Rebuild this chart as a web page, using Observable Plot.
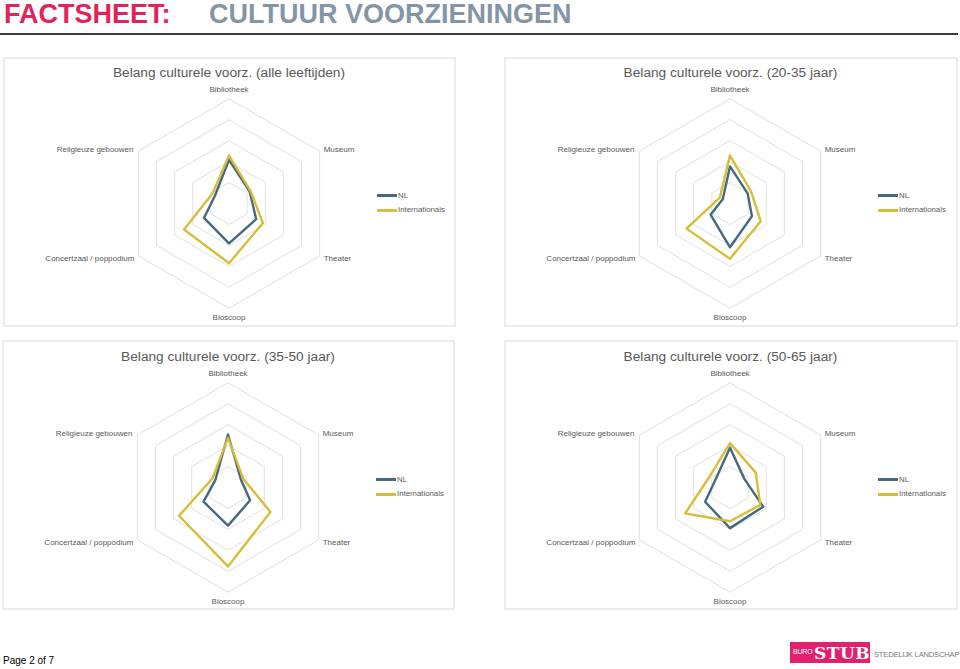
<!DOCTYPE html>
<html>
<head>
<meta charset="utf-8">
<script src="https://cdn.jsdelivr.net/npm/d3@7"></script>
<script src="https://cdn.jsdelivr.net/npm/@observablehq/plot@0.6"></script>
<style>
  html, body { margin: 0; padding: 0; background: #fff; }
  body { position: relative; width: 960px; height: 669px; overflow: hidden; font-family: "Liberation Sans", Arial, sans-serif; }
  .abs { position: absolute; }
  .hdr { top: 0px; font-size: 27px; font-weight: bold; line-height: 28px; white-space: nowrap; }
  .rule { left: 0; top: 33px; width: 958px; height: 1.5px; background: #3c3c3c; }
  .ptitle { font-size: 13.7px; color: #595959; text-align: center; line-height: 16px; white-space: nowrap; }
  .leg { font-size: 7.8px; color: #595959; line-height: 10px; white-space: nowrap; display: flex; align-items: center; }
  .leg span.sw { display: inline-block; width: 20px; height: 2.5px; margin-right: 1px; }
  .footer { left: 3px; top: 655px; font-size: 10px; color: #000; font-family: "Liberation Sans Narrow", "Liberation Sans", Arial, sans-serif; }
  .logo { left: 790px; top: 642px; width: 80px; height: 21px; background: #e2206e; color: #fff; }
  .logo .buro { position: absolute; left: 3px; top: 6px; font-size: 7px; letter-spacing: -0.2px; }
  .logo .stub { position: absolute; left: 24px; top: 1px; font-size: 17px; font-weight: bold; font-family: "DejaVu Serif", "Liberation Serif", serif; letter-spacing: 0.5px; }
  .logotxt { left: 874px; top: 650px; font-size: 7.6px; color: #7a7a7a; font-family: "Liberation Sans Narrow", "Liberation Sans", Arial, sans-serif; letter-spacing: -0.2px; white-space: nowrap; }
</style>
</head>
<body>
<div class="abs hdr" style="left:4px;color:#e0245a;">FACTSHEET:</div>
<div class="abs hdr" style="left:209px;color:#8396a7;">CULTUUR VOORZIENINGEN</div>
<div class="abs rule"></div>
<div id="root"></div>
<div class="abs footer">Page 2 of 7</div>
<div class="abs logo"><span class="buro">BURO</span><span class="stub">STUB</span></div>
<div class="abs logotxt">STEDELIJK LANDSCHAP</div>
<script>
// ---------- data ----------
const categories = ["Bibliotheek", "Museum", "Theater", "Bioscoop", "Concertzaal / poppodium", "Religieuze gebouwen"];
const seriesNames = ["NL", "Internationals"];
const seriesColors = ["#46697f", "#d6bd3a"];
const chartTitles = [
  "Belang culturele voorz. (alle leeftijden)",
  "Belang culturele voorz. (20-35 jaar)",
  "Belang culturele voorz. (35-50 jaar)",
  "Belang culturele voorz. (50-65 jaar)"
];
const nlAll   = [2.09, 1.14, 1.50, 1.90, 1.38, 0.77];
const intAll  = [2.29, 1.19, 1.87, 2.85, 2.48, 0.92];
const nl2035  = [1.77, 0.97, 1.21, 2.09, 1.07, 0.40];
const int2035 = [2.29, 1.16, 1.69, 2.64, 2.40, 0.56];
const nl3550  = [2.53, 0.72, 1.22, 1.82, 1.35, 0.70];
const int3550 = [2.37, 0.84, 2.34, 3.77, 2.70, 0.86];
const nl5065  = [1.90, 0.80, 1.83, 1.94, 1.37, 0.79];
const int5065 = [2.12, 1.42, 1.67, 1.61, 2.47, 1.10];
const gridLevels = [1, 2, 3, 4, 5];

const charts = [
  { title: chartTitles[0], nl: nlAll,  int: intAll  },
  { title: chartTitles[1], nl: nl2035, int: int2035 },
  { title: chartTitles[2], nl: nl3550, int: int3550 },
  { title: chartTitles[3], nl: nl5065, int: int5065 }
];

// ---------- layout ----------
const panels = [
  { left: 3,   top: 57,  w: 452, h: 269, cy: 146 },
  { left: 504, top: 57,  w: 453, h: 269, cy: 146 },
  { left: 2,   top: 340, w: 452, h: 269, cy: 147 },
  { left: 504, top: 340, w: 453, h: 269, cy: 147 }
];
const CX = 225.5;
const PX_PER_UNIT = 20.94;
const labelPlacement = [
  { anchor: "middle", dx: 0,  dy: -9 },
  { anchor: "start",  dx: 4,  dy: -2 },
  { anchor: "start",  dx: 4,  dy: 3 },
  { anchor: "middle", dx: 0,  dy: 9 },
  { anchor: "end",    dx: -4, dy: 3 },
  { anchor: "end",    dx: -5, dy: -2 }
];

const N = categories.length;
const ang = i => 2 * Math.PI * i / N;
const polar = (r, i) => ({ x: r * Math.sin(ang(i)), y: r * Math.cos(ang(i)) });

const root = document.getElementById("root");

charts.forEach((c, k) => {
  const p = panels[k];
  const u = PX_PER_UNIT;

  const grid = gridLevels.flatMap(level =>
    d3.range(N + 1).map(i => ({ level, ...polar(level, i % N) })));
  const seriesVals = [c.nl, c.int];
  const lines = seriesNames.flatMap((s, si) =>
    d3.range(N + 1).map(i => ({ series: s, ...polar(seriesVals[si][i % N], i % N) })));
  const outer = d3.max(gridLevels);
  const labels = categories.map((name, i) => ({ name, i, ...polar(outer, i) }));

  const marks = [
    Plot.frame({ stroke: "#d9d9d9", strokeWidth: 1, inset: 0.5 }),
    Plot.line(grid, { x: "x", y: "y", z: "level", stroke: "#e0e0e0", strokeWidth: 1 }),
    Plot.line(lines, { x: "x", y: "y", z: "series", stroke: "series", strokeWidth: 2.4, strokeLinejoin: "round" })
  ];
  labels.forEach(l => {
    const lp = labelPlacement[l.i];
    marks.push(Plot.text([l], {
      x: "x", y: "y", text: "name",
      textAnchor: lp.anchor, dx: lp.dx, dy: lp.dy,
      fontSize: 8, fill: "#595959"
    }));
  });

  const chart = Plot.plot({
    width: p.w, height: p.h,
    margin: 0,
    x: { domain: [-CX / u, (p.w - CX) / u], axis: null },
    y: { domain: [-(p.h - p.cy) / u, p.cy / u], axis: null },
    color: { domain: seriesNames, range: seriesColors },
    style: { fontFamily: "'Liberation Sans', Arial, sans-serif", background: "transparent", overflow: "visible" },
    marks
  });
  chart.style.position = "absolute";
  chart.style.left = p.left + "px";
  chart.style.top = p.top + "px";
  root.appendChild(chart);

  // panel title
  const t = document.createElement("div");
  t.className = "abs ptitle";
  t.style.left = p.left + "px";
  t.style.width = p.w + "px";
  t.style.top = (p.top + p.cy - 130.5 - 8) + "px";
  t.textContent = c.title;
  root.appendChild(t);

  // legend
  seriesNames.forEach((s, si) => {
    const row = document.createElement("div");
    row.className = "abs leg";
    row.style.left = (p.left + 374) + "px";
    row.style.top = (p.top + p.cy + (si === 0 ? -7.3 : 7.3) - 5) + "px";
    const sw = document.createElement("span");
    sw.className = "sw";
    sw.style.background = seriesColors[si];
    row.appendChild(sw);
    row.appendChild(document.createTextNode(s));
    root.appendChild(row);
  });
});
</script>
</body>
</html>
